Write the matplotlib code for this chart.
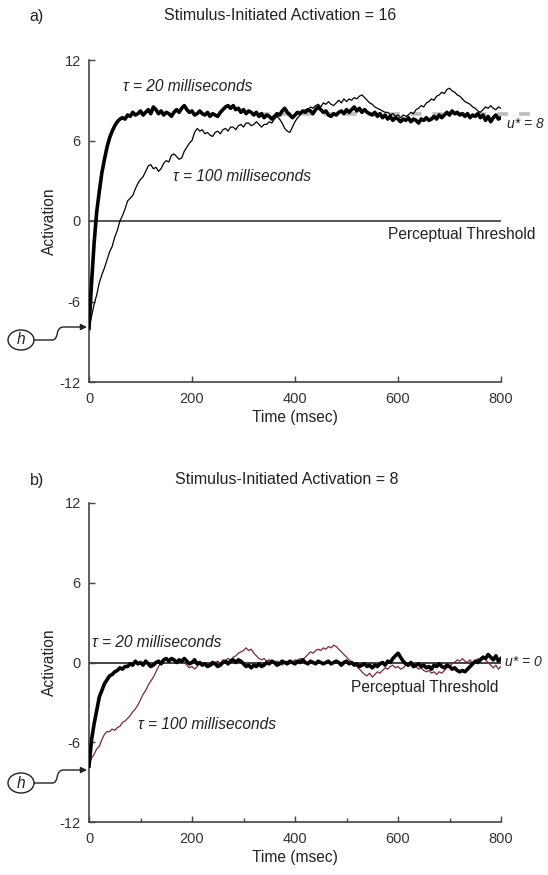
import numpy as np
import matplotlib
matplotlib.use("Agg")
import matplotlib.pyplot as plt
from matplotlib.patches import Ellipse, FancyArrowPatch
from matplotlib.path import Path
from matplotlib.ticker import MultipleLocator

plt.rcParams['font.family'] = ['Liberation Sans', 'DejaVu Sans']

# ---------------- data ----------------
time_ms = np.arange(0, 805, 5)

a_tau20 = [
    -8.0, -4.6, -1.6, 0.7, 2.2, 3.6, 4.6, 5.5, 6.2, 6.7, 7.1, 7.4, 7.6, 7.7, 7.6, 7.9, 7.8, 8.1, 7.9, 8.0,
    8.2, 7.9, 8.1, 8.3, 8.0, 8.5, 8.3, 8.0, 8.2, 7.9, 8.1, 8.0, 7.8, 8.1, 8.3, 8.1, 8.4, 8.6, 8.3, 8.1,
    8.2, 7.9, 8.0, 8.2, 8.0, 7.9, 8.1, 7.8, 8.0, 7.9, 7.8, 8.1, 8.3, 8.5, 8.6, 8.4, 8.6, 8.3, 8.4, 8.1,
    8.3, 8.0, 8.2, 8.1, 7.9, 8.1, 7.8, 8.0, 7.7, 7.9, 7.8, 7.6, 7.8, 8.0, 7.9, 8.2, 8.4, 8.1, 7.9, 7.7,
    7.9, 8.1, 8.0, 8.2, 8.1, 8.3, 8.2, 8.0, 8.3, 8.5, 8.3, 8.1, 8.2, 7.9, 7.8, 8.0, 7.9, 8.1, 8.2, 8.0,
    8.3, 8.1, 8.3, 8.5, 8.2, 8.4, 8.1, 8.3, 8.1, 8.0, 7.9, 8.1, 7.8, 8.0, 7.7, 7.9, 7.6, 7.8, 7.5, 7.7,
    7.6, 7.4, 7.6, 7.5, 7.7, 7.4, 7.6, 7.5, 7.3, 7.6, 7.5, 7.7, 7.5, 7.6, 7.8, 7.6, 7.9, 7.7, 7.9, 8.1,
    7.9, 8.2, 8.0, 8.1, 7.9, 8.0, 7.8, 8.0, 7.7, 7.9, 7.8, 8.0, 7.7, 7.9, 7.5, 7.8, 7.4, 7.7, 7.9, 7.6,
    7.7]

a_tau100 = [
    -8.0, -7.1, -6.2, -5.5, -4.6, -4.0, -3.5, -2.9, -2.3, -1.9, -1.2, -0.7, 0.0, 0.4, 0.9, 1.5, 1.7, 1.9, 2.4, 2.8,
    3.1, 3.3, 3.7, 4.1, 4.2, 3.9, 4.0, 3.7, 3.9, 4.3, 4.5, 4.4, 4.9, 5.0, 4.8, 4.6, 4.7, 5.2, 5.5, 5.8,
    6.0, 6.6, 6.9, 6.7, 6.8, 6.5, 6.6, 6.4, 6.3, 6.6, 6.7, 6.5, 6.8, 6.9, 6.7, 7.0, 7.0, 6.8, 7.1, 7.2,
    7.0, 7.3, 7.3, 7.1, 7.2, 7.4, 7.2, 7.0, 7.2, 7.2, 7.4, 7.3, 7.6, 7.8, 7.6, 7.3, 6.9, 6.7, 6.6, 7.0,
    7.4, 7.7, 7.9, 8.1, 8.3, 8.2, 8.5, 8.4, 8.6, 8.7, 8.5, 8.8, 8.7, 8.9, 8.7, 8.6, 8.8, 9.0, 8.8, 9.1,
    8.9, 9.1, 9.0, 9.2, 9.1, 9.3, 9.4, 9.2, 9.0, 8.8, 8.7, 8.5, 8.4, 8.3, 8.2, 8.1, 8.1, 7.9, 8.0, 7.8,
    7.9, 7.7, 7.9, 7.8, 7.9, 8.1, 8.0, 8.3, 8.4, 8.6, 8.5, 8.8, 8.9, 9.1, 9.0, 9.3, 9.4, 9.6, 9.5, 9.8,
    9.9, 9.7, 9.6, 9.4, 9.3, 9.1, 8.9, 8.8, 8.7, 8.5, 8.4, 8.2, 8.1, 8.3, 8.5, 8.4, 8.6, 8.4, 8.3, 8.5,
    8.4]

b_tau20 = [
    -7.8, -5.8, -4.6, -3.6, -2.6, -2.1, -1.6, -1.3, -1.0, -0.9, -0.7, -0.6, -0.4, -0.5, -0.3, -0.3, -0.1, -0.2, 0.1, -0.1,
    0.0, -0.2, 0.1, -0.1, -0.3, -0.2, 0.0, 0.1, -0.1, 0.2, 0.3, 0.1, 0.3, 0.2, 0.0, 0.2, 0.1, 0.3, 0.1, -0.1,
    0.0, 0.2, -0.1, 0.0, -0.2, -0.1, -0.3, -0.2, 0.0, -0.1, -0.3, -0.2, 0.0, 0.1, -0.1, 0.1, 0.2, 0.0, 0.2, 0.1,
    -0.1, -0.3, -0.2, -0.4, -0.2, -0.3, -0.1, -0.3, -0.2, 0.0, -0.1, 0.1, 0.0, -0.2, -0.1, 0.1, 0.0, -0.1, 0.1, 0.0,
    -0.1, 0.1, 0.0, 0.2, 0.0, -0.1, 0.1, 0.0, -0.1, 0.1, 0.0, -0.1, 0.0, 0.1, -0.1, 0.0, 0.1, 0.0, -0.2, 0.0,
    0.1, -0.1, 0.0, -0.2, -0.1, -0.3, -0.2, -0.1, -0.3, -0.2, -0.4, -0.2, -0.3, -0.1, 0.0, -0.2, 0.1, 0.0, 0.3, 0.5,
    0.7, 0.4, 0.1, -0.1, -0.2, 0.0, -0.3, -0.2, -0.1, -0.3, -0.2, -0.4, -0.3, -0.5, -0.2, -0.3, -0.1, -0.3, -0.4, -0.2,
    -0.3, -0.5, -0.4, -0.6, -0.7, -0.6, -0.7, -0.5, -0.3, -0.1, 0.1, 0.0, 0.2, 0.4, 0.3, 0.6, 0.4, 0.2, 0.5, 0.1,
    0.3]

b_tau100 = [
    -7.6, -7.2, -6.9, -6.5, -6.3, -5.8, -5.4, -5.2, -5.2, -5.0, -5.1, -4.9, -4.8, -4.5, -4.4, -4.2, -4.0, -3.7, -3.5, -3.2,
    -2.8, -2.4, -2.1, -1.7, -1.4, -1.1, -0.7, -0.3, 0.0, 0.2, 0.3, 0.1, 0.3, 0.2, 0.0, 0.2, 0.1, 0.0, -0.2, -0.4,
    -0.3, -0.5, -0.3, -0.1, -0.2, 0.0, -0.1, -0.3, -0.2, 0.0, 0.1, -0.1, 0.2, 0.1, 0.3, 0.2, 0.4, 0.5, 0.7, 0.8,
    0.9, 1.1, 0.9, 1.0, 0.7, 0.5, 0.3, 0.2, 0.3, 0.1, 0.2, 0.0, -0.1, 0.1, 0.0, -0.2, 0.0, 0.1, -0.1, 0.0,
    0.2, 0.1, 0.3, 0.2, 0.4, 0.6, 0.8, 0.7, 0.9, 1.0, 0.9, 1.1, 1.0, 1.2, 1.1, 1.3, 1.2, 1.0, 0.8, 0.6,
    0.4, 0.2, 0.0, -0.1, -0.3, -0.5, -0.7, -0.9, -1.0, -0.8, -1.1, -0.9, -0.7, -0.8, -0.6, -0.4, -0.5, -0.3, -0.2, -0.4,
    -0.3, -0.5, -0.4, -0.2, -0.3, -0.1, -0.4, -0.3, -0.5, -0.4, -0.6, -0.7, -0.6, -0.8, -0.7, -0.9, -0.7, -0.8, -0.6, -0.4,
    -0.3, -0.1, 0.0, 0.2, 0.1, 0.3, 0.1, 0.0, 0.2, -0.1, 0.1, 0.3, 0.1, 0.4, 0.2, 0.0, -0.2, -0.4, -0.2, -0.5,
    -0.3]

resting_h = -8
u_star_a = 8
u_star_b = 0
titles = ["Stimulus-Initiated Activation = 16", "Stimulus-Initiated Activation = 8"]
panel_tags = ["a)", "b)"]
x_ticks = [0, 200, 400, 600, 800]
y_ticks = [-12, -6, 0, 6, 12]

# ---------------- figure ----------------
W, H = 548, 875
fig = plt.figure(figsize=(W / 100, H / 100), dpi=100)

def fx(px):
    return px / W

def fy(py):
    return 1 - py / H

TXT = '#222222'
FS = 11.2
ax_a = fig.add_axes([fx(89), fy(382), fx(501) - fx(89), fy(60) - fy(382)])
ax_b = fig.add_axes([fx(89), fy(822), fx(501) - fx(89), fy(503) - fy(822)])

for ax, minor in ((ax_a, False), (ax_b, True)):
    ax.set_xlim(0, 800)
    ax.set_ylim(-12, 12)
    for s in ('top', 'right'):
        ax.spines[s].set_visible(False)
    for s in ('left', 'bottom'):
        ax.spines[s].set_color('#444444')
        ax.spines[s].set_linewidth(1.2)
    ax.set_xticks(x_ticks)
    ax.set_yticks(y_ticks)
    ax.set_xticklabels([str(v) for v in x_ticks])
    ax.set_yticklabels([str(v) for v in y_ticks])
    if minor:
        ax.xaxis.set_minor_locator(MultipleLocator(100))
    ax.tick_params(axis='both', which='both', direction='in', length=4, width=1,
                   color='#444444', labelsize=10.5, labelcolor='#333333', pad=7)
    ax.tick_params(axis='y', pad=6)
    ax.tick_params(axis='x', which='minor', length=3)
    ax.set_xlabel('Time (msec)', fontsize=FS, color=TXT, labelpad=3)
    ax.set_ylabel('Activation', fontsize=FS, color=TXT, labelpad=2)
    ax.patch.set_alpha(0)

# panel a
ax_a.axhline(0, color='#555555', lw=1.4, zorder=1)
ax_a.plot([330, 860], [u_star_a, u_star_a], color='#bdbdbd', lw=2.6,
          dashes=(3, 3), clip_on=False, zorder=2)
ax_a.plot(time_ms, a_tau100, color='black', lw=0.9, zorder=3)
ax_a.plot(time_ms, a_tau20, color='black', lw=2.6, zorder=4)
ax_a.text(66, 10.0, 'τ = 20 milliseconds', fontsize=FS, style='italic', color=TXT, va='center')
ax_a.text(163, 3.3, 'τ = 100 milliseconds', fontsize=FS, style='italic', color=TXT, va='center')
ax_a.text(866, -1.0, 'Perceptual Threshold', fontsize=FS, color=TXT, va='center', ha='right',
          clip_on=False)
ax_a.text(812, 7.2, 'u* = 8', fontsize=10, style='italic', color=TXT, va='center',
          clip_on=False)

# panel b
ax_b.axhline(0, color='#111111', lw=1.1, zorder=1)
ax_b.plot(time_ms, b_tau100, color='#7a2a36', lw=0.9, zorder=3)
ax_b.plot(time_ms, b_tau20, color='black', lw=2.6, zorder=4)
ax_b.text(6, 1.5, 'τ = 20 milliseconds', fontsize=FS, style='italic', color=TXT, va='center')
ax_b.text(95, -4.7, 'τ = 100 milliseconds', fontsize=FS, style='italic', color=TXT, va='center')
ax_b.text(794, -1.9, 'Perceptual Threshold', fontsize=FS, color=TXT, va='center', ha='right',
          clip_on=False)
ax_b.text(808, 0.0, 'u* = 0', fontsize=10, style='italic', color=TXT, va='center',
          clip_on=False)

# titles and panel tags
fig.text(fx(37), fy(16), panel_tags[0], fontsize=11.5, color=TXT, ha='center', va='center')
fig.text(fx(280), fy(16), titles[0], fontsize=11.5, color=TXT, ha='center', va='center')
fig.text(fx(37), fy(480), panel_tags[1], fontsize=11.5, color=TXT, ha='center', va='center')
fig.text(fx(287), fy(480), titles[1], fontsize=11.5, color=TXT, ha='center', va='center')

# h annotations
def h_marker(cy_px, ay_px):
    e = Ellipse((fx(21), fy(cy_px)), fx(26), 20 / H, facecolor='white',
                edgecolor='#222222', lw=1.0, transform=fig.transFigure)
    fig.patches.append(e)
    fig.text(fx(21), fy(cy_px), 'h', fontsize=FS, style='italic', color=TXT,
             ha='center', va='center')
    verts = [(fx(34), fy(cy_px)), (fx(52), fy(cy_px)),
             (fx(60), fy(cy_px)), (fx(54), fy(ay_px)), (fx(64), fy(ay_px)),
             (fx(87), fy(ay_px))]
    codes = [Path.MOVETO, Path.LINETO, Path.CURVE4, Path.CURVE4, Path.CURVE4, Path.LINETO]
    arr = FancyArrowPatch(path=Path(verts, codes), arrowstyle='-|>', mutation_scale=9,
                          color='#222222', lw=1.0, transform=fig.transFigure)
    fig.patches.append(arr)

h_marker(340, 327)
h_marker(783, 770)

fig.savefig('out.png', dpi=100)
